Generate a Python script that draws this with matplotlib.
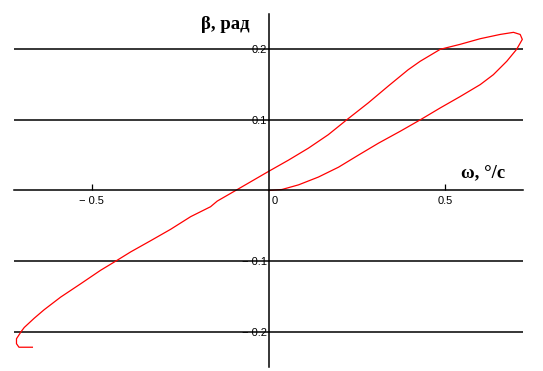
import matplotlib.pyplot as plt

omega = [0.0, 0.038, 0.085, 0.141, 0.198, 0.254, 0.311, 0.373, 0.429,
         0.486, 0.542, 0.599, 0.636, 0.674, 0.702, 0.718, 0.712, 0.693,
         0.655, 0.599, 0.542, 0.486, 0.429, 0.395, 0.339, 0.282, 0.221,
         0.169, 0.113, 0.0565, 0.0, -0.093, -0.145, -0.164, -0.22, -0.277,
         -0.333, -0.39, -0.432, -0.475, -0.531, -0.588, -0.635, -0.663,
         -0.691, -0.7, -0.713, -0.713, -0.706, -0.668]
beta = [0.0, 0.0014, 0.008, 0.019, 0.033, 0.05, 0.067, 0.084, 0.1,
        0.117, 0.133, 0.15, 0.164, 0.183, 0.2, 0.214, 0.221, 0.224,
        0.221, 0.215, 0.207, 0.2, 0.183, 0.171, 0.148, 0.124, 0.1,
        0.079, 0.06, 0.043, 0.027, 0.0, -0.015, -0.023, -0.037, -0.055,
        -0.071, -0.087, -0.1, -0.113, -0.132, -0.151, -0.169, -0.181,
        -0.194, -0.2, -0.21, -0.217, -0.222, -0.222]

xticks = [-0.5, 0.5]
xlabels = ['\u2212 0.5', '0.5']
yticks = [-0.2, -0.1, 0.1, 0.2]
ylabels = ['\u2212 0.2', '\u2212 0.1', '0.1', '0.2']

fig = plt.figure(figsize=(5.43, 3.71), dpi=100)
ax = fig.add_axes([0.0258, 0.0108, 0.9374, 0.9515])

ax.plot(omega, beta, color='red', lw=0.9)

ax.set_xlim(-0.72, 0.72)
ax.set_ylim(-0.25, 0.25)

# axes crossing at the origin, Mathcad style
for s in ['top', 'right']:
    ax.spines[s].set_visible(False)
ax.spines['left'].set_position(('data', 0))
ax.spines['bottom'].set_position(('data', 0))
ax.spines['left'].set_linewidth(1.1)
ax.spines['bottom'].set_linewidth(1.1)

for y in yticks:
    ax.axhline(y, color='black', lw=1.1, zorder=0)

ax.set_xticks(xticks)
ax.set_xticklabels(xlabels, family='Liberation Sans')
ax.tick_params(axis='x', direction='in', length=4, width=0.9, pad=4,
               labelsize=8)
ax.set_yticks(yticks)
ax.set_yticklabels(ylabels, family='Liberation Sans')
ax.tick_params(axis='y', length=0, pad=1, labelsize=8)
ax.text(0.008, -0.008, '0', fontsize=8, family='Liberation Sans',
        ha='left', va='top')

ax.text(-0.123, 0.235, '\u03b2, \u0440\u0430\u0434', fontsize=13.5,
        fontweight='bold', family='Liberation Serif', ha='center', va='center')
ax.text(0.607, 0.025, '\u03c9, \u00b0/\u0441', fontsize=13.5,
        fontweight='bold', family='Liberation Serif', ha='center', va='center')

fig.savefig('out.png', dpi=100)
